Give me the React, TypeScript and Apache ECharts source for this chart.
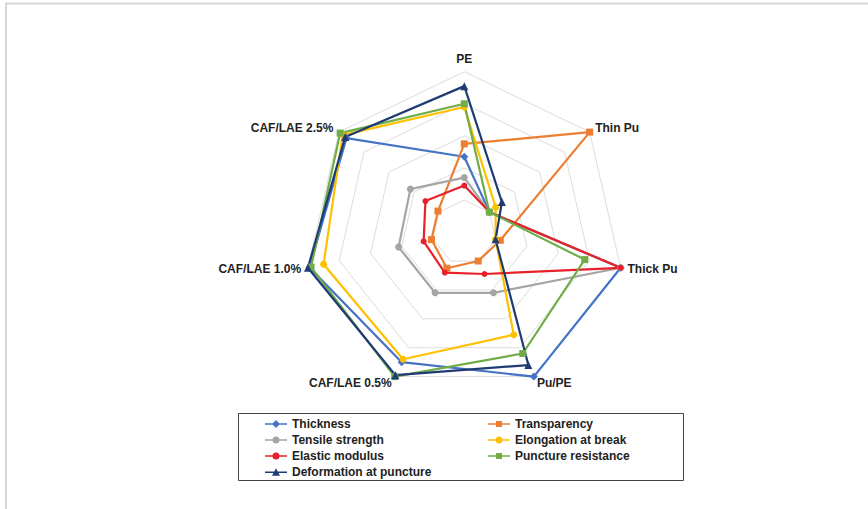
import React, { useEffect, useRef } from "react";
import * as echarts from "echarts";

// Indicators in ECharts' counter-clockwise order, starting at the top
const indicators = ["PE", "CAF/LAE 2.5%", "CAF/LAE 1.0%", "CAF/LAE 0.5%", "Pu/PE", "Thick Pu", "Thin Pu"];

const thickness = [0.47, 0.94, 0.99, 0.9, 1.0, 1.0, 0.2];
const transparency = [0.55, 0.21, 0.21, 0.25, 0.2, 0.23, 1.0];
const tensileStrength = [0.34, 0.43, 0.42, 0.42, 0.42, 1.0, 0.2];
const elongationAtBreak = [0.78, 0.97, 0.9, 0.88, 0.71, 0.2, 0.25];
const elasticModulus = [0.29, 0.31, 0.26, 0.28, 0.29, 1.0, 0.2];
const punctureResistance = [0.8, 0.99, 0.98, 1.0, 0.84, 0.77, 0.2];
const deformationAtPuncture = [0.91, 0.95, 1.0, 0.99, 0.92, 0.2, 0.3];

const LINE = "M0 3.2 L22 3.2 L22 4.8 L0 4.8 Z ";
const MARK: Record<string, string> = {
  diamond: "M11 0 L15 4 L11 8 L7 4 Z",
  rect: "M8 1 L14 1 L14 7 L8 7 Z",
  circle: "M7.5 4 A3.5 3.5 0 1 1 14.5 4 A3.5 3.5 0 1 1 7.5 4 Z",
  triangle: "M11 0 L15 7.5 L7 7.5 Z",
};

const seriesDefs = [
  { name: "Thickness", values: thickness, color: "#4472C4", symbol: "diamond", size: 8 },
  { name: "Transparency", values: transparency, color: "#ED7D31", symbol: "rect", size: 7 },
  { name: "Tensile strength", values: tensileStrength, color: "#A5A5A5", symbol: "circle", size: 7 },
  { name: "Elongation at break", values: elongationAtBreak, color: "#FFC000", symbol: "circle", size: 7 },
  { name: "Elastic modulus", values: elasticModulus, color: "#E8202A", symbol: "circle", size: 6 },
  { name: "Puncture resistance", values: punctureResistance, color: "#70AD47", symbol: "rect", size: 7 },
  { name: "Deformation at puncture", values: deformationAtPuncture, color: "#1F3B73", symbol: "triangle", size: 8 },
];

const leftLegend = ["Thickness", "Tensile strength", "Elastic modulus", "Deformation at puncture"];
const rightLegend = ["Transparency", "Elongation at break", "Puncture resistance"];

const FONT = "Liberation Sans";

export default function App() {
  const ref = useRef<HTMLDivElement>(null);
  useEffect(() => {
    if (!ref.current) return;
    const chart = echarts.init(ref.current, undefined, { renderer: "svg" });
    const iconFor = (name: string) => {
      const s = seriesDefs.find((d) => d.name === name)!;
      return { name, icon: "path://" + LINE + MARK[s.symbol] };
    };
    const legendCommon = {
      orient: "vertical",
      itemWidth: 22,
      itemHeight: 8,
      itemGap: 4,
      padding: 0,
      selectedMode: false,
      textStyle: { fontFamily: FONT, fontWeight: "bold", fontSize: 12, color: "#222" },
    };
    chart.setOption({
      animation: false,
      backgroundColor: "#ffffff",
      radar: {
        center: [464.3, 232.1],
        radius: 160.4,
        startAngle: 90,
        shape: "polygon",
        splitNumber: 5,
        indicator: indicators.map((n) => ({ name: n, min: 0, max: 1 })),
        axisName: { fontFamily: FONT, fontWeight: "bold", fontSize: 12, color: "#222" },
        nameGap: 7,
        splitLine: { lineStyle: { color: "#dcdcdc", width: 1 } },
        splitArea: { show: false },
        axisLine: { show: false },
        axisTick: { show: false },
        axisLabel: { show: false },
      },
      legend: [
        { ...legendCommon, left: 265, top: 418, data: leftLegend.map(iconFor) },
        { ...legendCommon, left: 488, top: 418, data: rightLegend.map(iconFor) },
      ],
      graphic: [
        { type: "line", shape: { x1: 5, y1: 3.5, x2: 868, y2: 3.5 }, style: { stroke: "#d6d6d6", lineWidth: 2 } },
        { type: "line", shape: { x1: 6, y1: 3, x2: 6, y2: 509 }, style: { stroke: "#d6d6d6", lineWidth: 2 } },
        { type: "rect", shape: { x: 238.5, y: 413.5, width: 445, height: 67 }, style: { fill: "none", stroke: "#444", lineWidth: 1 } },
      ],
      series: seriesDefs.map((s) => ({
        type: "radar",
        name: s.name,
        symbol: s.symbol,
        symbolSize: s.size,
        lineStyle: { color: s.color, width: 2.2 },
        itemStyle: { color: s.color },
        data: [{ name: s.name, value: s.values }],
      })),
    });
    return () => chart.dispose();
  }, []);
  return <div ref={ref} style={{ position: "absolute", left: 0, top: 0, width: 868, height: 509 }} />;
}
